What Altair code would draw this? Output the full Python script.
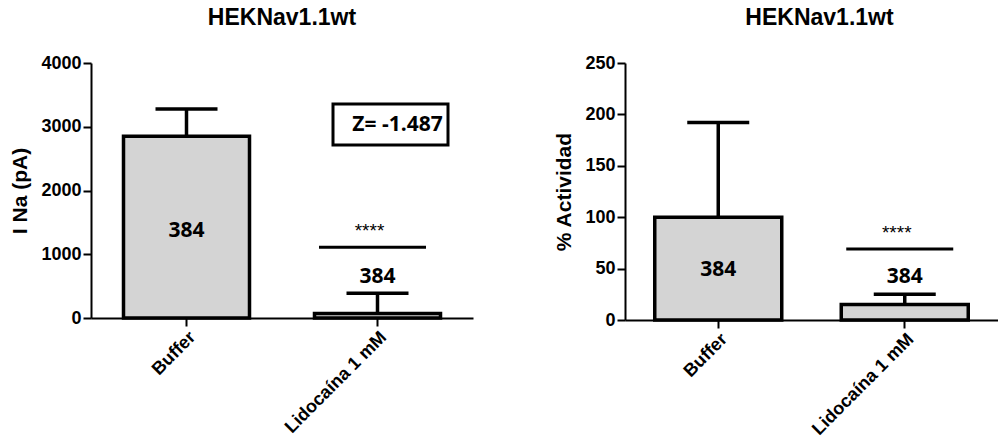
import altair as alt
import pandas as pd

# ---- data ----
categories = ["Buffer", "Lidocaína 1 mM"]
ina_mean = [2850, 70]
ina_err_top = [3280, 390]
act_mean = [100, 15]
act_err_top = [192, 25]
n_labels = ["384", "384"]
ina_label_y = [1370, 650]
act_label_y = [49, 42]
ina_ticks = [0, 1000, 2000, 3000, 4000]
act_ticks = [0, 50, 100, 150, 200, 250]
ina_sig_y = 1110
act_sig_y = 69
sig_text = "****"
z_text = "Z= -1.487"
z_y = 3035
title_text = "HEKNav1.1wt"
ina_title = "I Na (pA)"
act_title = "% Actividad"

AX_FONT = "Liberation Sans"
ANN_FONT = "Open Sans"
BAR_FILL = "#d4d4d4"


def panel(mean, err, label_y, sig_y, y_title, y_max, ticks, width, height,
          bar_size, z=False, title_dx=0):
    df = pd.DataFrame({"cat": categories, "mean": mean, "err": err,
                       "ly": label_y, "n": n_labels})
    xscale = alt.Scale(paddingInner=0, paddingOuter=0)
    xaxis = alt.Axis(title=None, labelAngle=-45, labelFontSize=18,
                     labelPadding=2, labelAlign="right", labelBaseline="top")
    x_main = alt.X("cat:N", sort=categories, scale=xscale, axis=xaxis)
    yscale = alt.Scale(domain=[0, y_max], nice=False, zero=True)
    yaxis = alt.Axis(values=ticks, title=y_title, titlePadding=10,
                     grid=False, labelFontSize=18, format="d")

    def Y(f):
        return alt.Y(f, scale=yscale, axis=yaxis)

    base = alt.Chart(df).encode(x=x_main)
    bars = base.mark_bar(size=bar_size, fill=BAR_FILL, stroke="black",
                         strokeWidth=3.5).encode(y=Y("mean:Q"))
    errline = base.mark_rule(color="black", strokeWidth=3.5).encode(
        y=Y("mean:Q"), y2="err:Q")
    caps = base.mark_tick(size=62, thickness=3.5, color="black",
                          opacity=1).encode(y=Y("err:Q"))
    nlab = base.mark_text(font=ANN_FONT, fontSize=21, fontWeight="bold",
                          color="black").encode(y=Y("ly:Q"), text="n:N")

    sig_df = pd.DataFrame({"cat": [categories[1]], "y": [sig_y],
                           "t": [sig_text]})
    sig_base = alt.Chart(sig_df).encode(x=x_main)
    sig_line = sig_base.mark_tick(size=107, thickness=3, color="black",
                                  opacity=1, xOffset=-5).encode(y=Y("y:Q"))
    sig_star = sig_base.mark_text(font=AX_FONT, fontSize=19, color="black",
                                  baseline="alphabetic", dy=-10,
                                  xOffset=-8).encode(y=Y("y:Q"), text="t:N")
    layers = [bars, errline, caps, nlab, sig_line, sig_star]

    if z:
        z_df = pd.DataFrame({"cat": [categories[1]], "y": [z_y], "t": [z_text]})
        z_base = alt.Chart(z_df).encode(x=x_main, y=Y("y:Q"))
        box = z_base.mark_point(
            shape="M-1,-0.357L1,-0.357L1,0.357L-1,0.357Z", size=115 * 115,
            filled=False, stroke="black", strokeWidth=3, opacity=1,
            xOffset=13)
        ztxt = z_base.mark_text(font=ANN_FONT, fontSize=21, fontWeight="bold",
                                color="black", xOffset=20).encode(text="t:N")
        layers += [box, ztxt]

    return alt.layer(*layers).properties(
        width=width, height=height,
        title=alt.TitleParams(title_text, fontSize=23, font=AX_FONT,
                              fontWeight="bold", color="black", offset=24,
                              anchor="middle", dx=title_dx))


left = panel(ina_mean, ina_err_top, ina_label_y, ina_sig_y, ina_title, 4000,
             ina_ticks, 382, 255, 126, z=True)
right = panel(act_mean, act_err_top, act_label_y, act_sig_y, act_title, 250,
              act_ticks, 373, 257, 127, title_dx=8)

chart = alt.hconcat(left, right, spacing=80).properties(
    padding={"left": 9, "top": 7, "right": 0, "bottom": 0},
    background="white",
).configure_view(stroke=None).configure_axis(
    domainColor="black", domainWidth=2, tickColor="black", tickWidth=2,
    tickSize=8, labelColor="black", labelFont=AX_FONT, labelFontWeight="bold",
    titleFont=AX_FONT, titleFontWeight="bold", titleFontSize=21,
    titleColor="black",
)

chart.save("out.html", embed_options={"renderer": "svg", "actions": False})
